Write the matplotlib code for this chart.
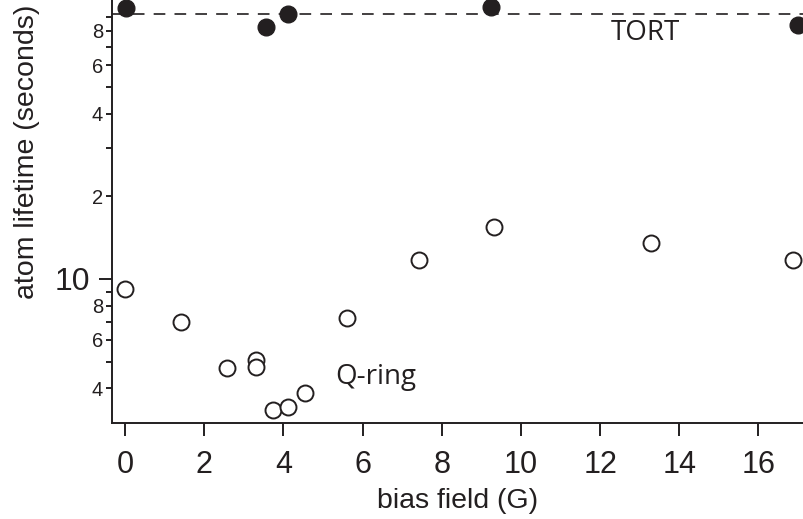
import matplotlib
matplotlib.use("Agg")
import matplotlib.pyplot as plt
from matplotlib.ticker import FixedLocator, FixedFormatter

# Q-ring (open circles)
qring_field = [0.0, 1.41, 2.57, 3.32, 3.30, 3.74, 4.11, 4.55, 5.60, 7.43, 9.32, 13.28, 16.88]
qring_life = [9.2, 7.0, 4.76, 5.05, 4.80, 3.34, 3.42, 3.84, 7.19, 11.7, 15.4, 13.5, 11.7]

# TORT (filled circles)
tort_field = [0.02, 3.56, 4.12, 9.24, 17.0]
tort_life = [96.5, 82.3, 92.0, 97.3, 83.9]
tort_level = 92.0

minor_vals = [4, 5, 6, 7, 8, 9, 20, 30, 40, 50, 60, 70, 80, 90]
minor_labels = ["4", "", "6", "", "8", "", "2", "", "4", "", "6", "", "8", ""]
x_ticks = [0, 2, 4, 6, 8, 10, 12, 14, 16]

ink = "#231f20"
plt.rcParams["font.family"] = ["Liberation Sans", "DejaVu Sans"]

fig = plt.figure(figsize=(8.04, 5.19), dpi=100)
ax = fig.add_axes([112 / 804, 96 / 519, 692 / 804, 423 / 519])

ax.axhline(tort_level, color=ink, lw=1.2, dashes=(7, 5.5), zorder=1)
ax.plot(qring_field, qring_life, "o", ms=11.5, mfc="white", mec=ink, mew=1.4,
        clip_on=False, zorder=3)
ax.plot(tort_field, tort_life, "o", ms=12, mfc=ink, mec=ink, clip_on=False, zorder=3)

ax.set_yscale("log")
ax.set_xlim(-0.33, 17.15)
ax.set_ylim(2.99, 103.6)

for s in ["top", "right"]:
    ax.spines[s].set_visible(False)
for s in ["left", "bottom"]:
    ax.spines[s].set_linewidth(1.4)
    ax.spines[s].set_color(ink)

ax.set_xticks(x_ticks)
ax.set_xticklabels([str(t) for t in x_ticks])
ax.tick_params(axis="x", direction="out", length=9.5, width=1.4, color=ink,
               labelsize=22, labelcolor=ink, pad=10)

ax.yaxis.set_major_locator(FixedLocator([10]))
ax.yaxis.set_major_formatter(FixedFormatter(["10"]))
ax.yaxis.set_minor_locator(FixedLocator(minor_vals))
ax.yaxis.set_minor_formatter(FixedFormatter(minor_labels))
ax.tick_params(axis="y", which="major", direction="out", length=9.5, width=1.4,
               color=ink, labelsize=23, labelcolor=ink, pad=6)
ax.tick_params(axis="y", which="minor", direction="out", length=4.5, width=1.4,
               color=ink, labelsize=14.5, labelcolor=ink, pad=2)

ax.set_xlabel("bias field (G)", fontsize=20.5, color=ink, labelpad=6)
ax.set_ylabel("atom lifetime (seconds)", fontsize=20.5, color=ink)
ax.yaxis.set_label_coords(-0.104, 0.64)

ax.text(645, 519 - 33, "TORT", transform=None, fontsize=20, color=ink,
        family=["Open Sans", "DejaVu Sans"], ha="center", va="center")
ax.text(376, 519 - 377, "Q-ring", transform=None, fontsize=20, color=ink,
        family=["Open Sans", "DejaVu Sans"], ha="center", va="center")

fig.savefig("out.png", dpi=100)
